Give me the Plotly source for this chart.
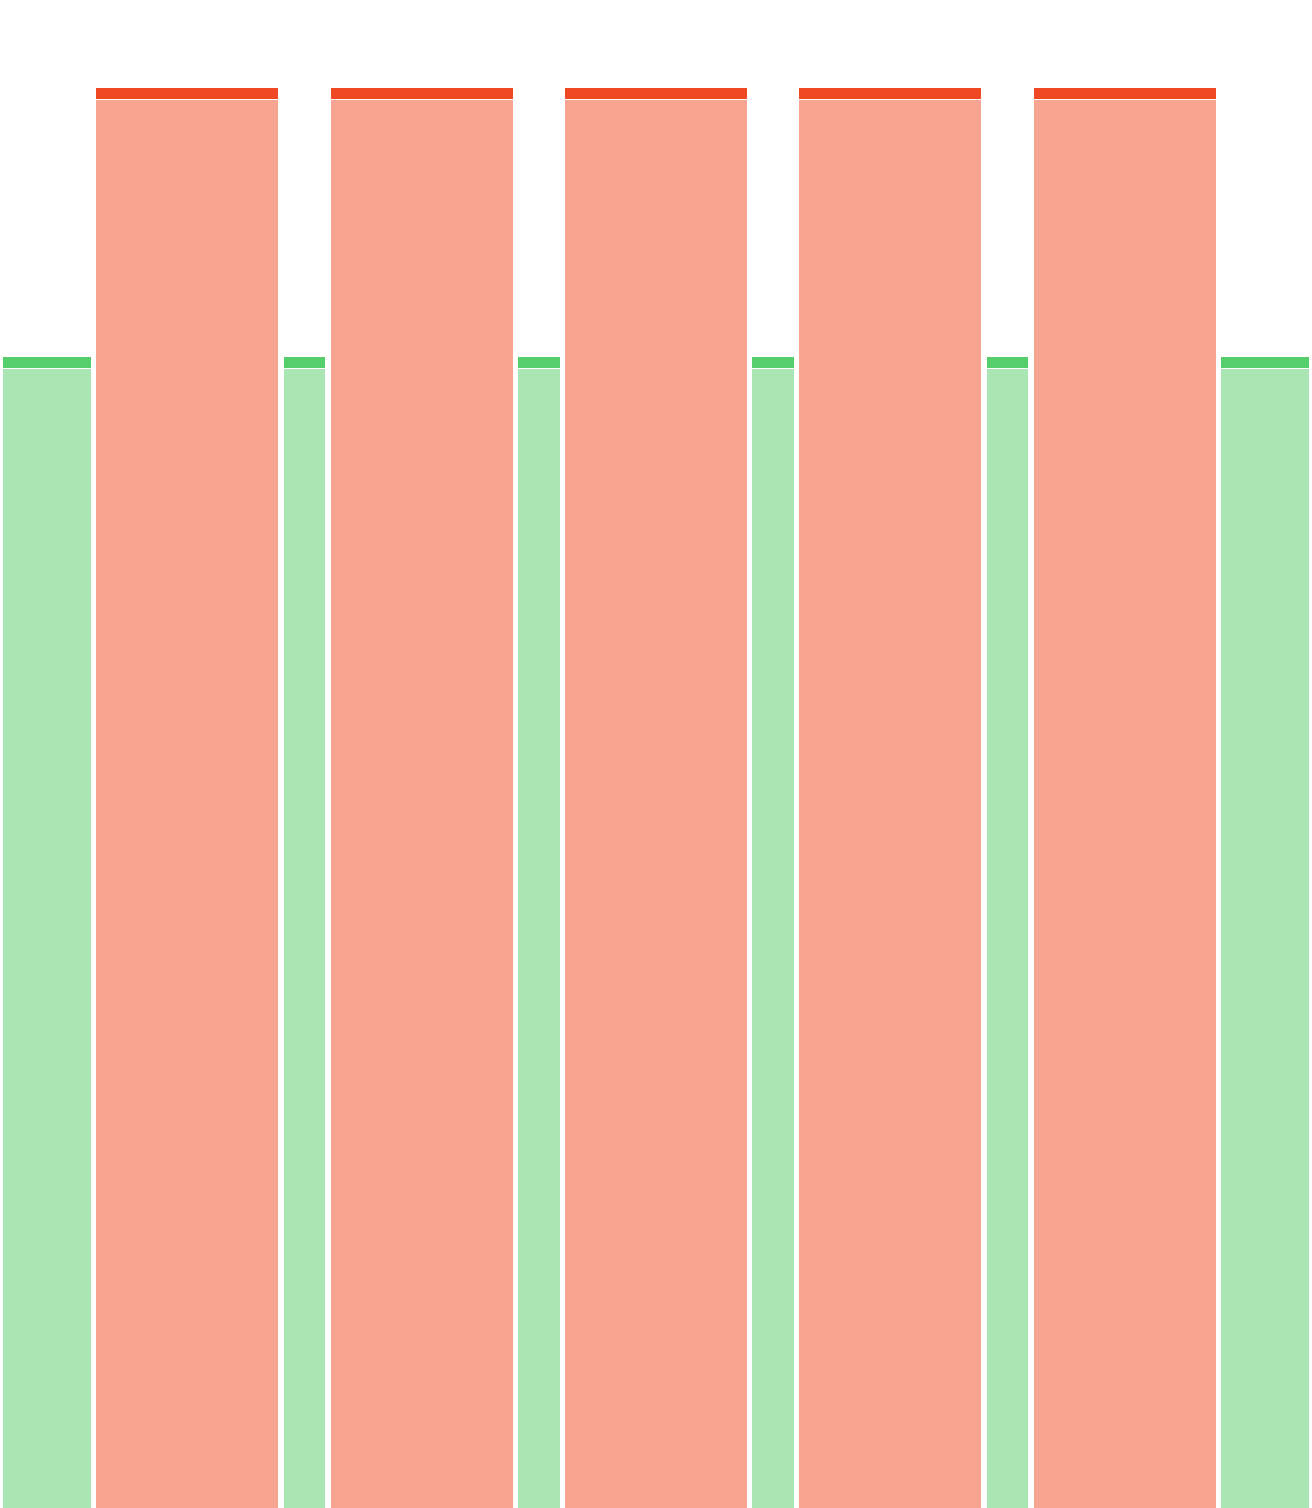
import numpy as np
import plotly.graph_objects as go

# --- data ---
kinds = ["g", "r", "g", "r", "g", "r", "g", "r", "g", "r", "g"]
slot_units = [2, 4, 1, 4, 1, 4, 1, 4, 1, 4, 2]
body_values = [113.95, 140.85, 113.95, 140.85, 113.95, 140.85, 113.95, 140.85, 113.95, 140.85, 113.95]
cap_values = [1.25, 1.25, 1.25, 1.25, 1.25, 1.25, 1.25, 1.25, 1.25, 1.25, 1.25]

body_colors = {"g": "#AAE6B4", "r": "#F7A590"}
cap_colors = {"g": "#55CE6B", "r": "#F04822"}
gap_units = 0.095

slots = np.array(slot_units, dtype=float)
edges = np.concatenate([[0], np.cumsum(slots)])
centers = (edges[:-1] + edges[1:]) / 2
widths = slots - gap_units

fig = go.Figure()
for k in ["g", "r"]:
    idx = [i for i, kk in enumerate(kinds) if kk == k]
    fig.add_trace(go.Bar(
        x=centers[idx], y=[body_values[i] for i in idx], width=widths[idx],
        marker=dict(color=body_colors[k], line=dict(color="white", width=1)),
        showlegend=False, hoverinfo="skip"))
    fig.add_trace(go.Bar(
        x=centers[idx], y=[cap_values[i] for i in idx], width=widths[idx],
        marker=dict(color=cap_colors[k], line=dict(color="white", width=1)),
        showlegend=False, hoverinfo="skip"))

fig.update_layout(
    barmode="stack",
    width=1312, height=1508,
    margin=dict(l=0, r=0, t=0, b=0),
    paper_bgcolor="white", plot_bgcolor="white",
    xaxis=dict(range=[0, float(edges[-1])], visible=False, fixedrange=True),
    yaxis=dict(range=[0, 150.8], visible=False, fixedrange=True),
)
fig.write_html("out.html", config={"displayModeBar": False},
               post_script="document.body.style.margin='0';document.body.style.overflow='hidden';")
